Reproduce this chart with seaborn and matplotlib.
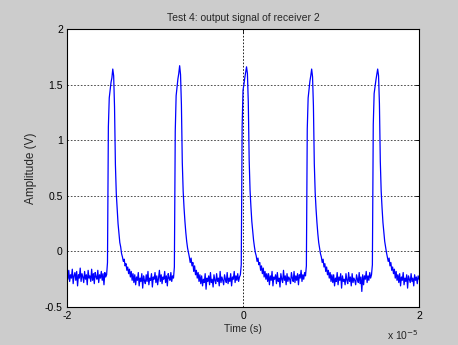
import numpy as np
import pandas as pd
import matplotlib
matplotlib.use("Agg")
import matplotlib.pyplot as plt
import seaborn as sns

# sampling of the trace (s)
t_start = -2e-5
t_step = 1e-7

# amplitude samples (V), one list per pulse period
lead = [-0.20, -0.25, -0.17, -0.27, -0.21, -0.24, -0.16, -0.29, -0.22, -0.19,
        -0.26, -0.18, -0.31, -0.21, -0.24, -0.15, -0.27, -0.20, -0.23, -0.28,
        -0.18, -0.25, -0.21, -0.30, -0.17, -0.24, -0.22, -0.27, -0.16, -0.26,
        -0.20, -0.29, -0.19, -0.23, -0.25, -0.17, -0.28, -0.21, -0.24, -0.18,
        -0.26, -0.20, -0.30, -0.19, -0.23, -0.21, -0.10]

cycle1 = [1.12, 1.38, 1.45, 1.52, 1.56, 1.64, 1.58, 1.30, 0.78, 0.52,
          0.38, 0.25, 0.17, 0.08, 0.04, -0.02, -0.05,
          -0.09, -0.07, -0.13, -0.11, -0.17, -0.14, -0.20, -0.16, -0.23, -0.18, -0.26, -0.20,
          -0.28, -0.21, -0.30, -0.23, -0.26, -0.19, -0.31, -0.24, -0.27, -0.20,
          -0.33, -0.22, -0.26, -0.29, -0.21, -0.27, -0.18, -0.30, -0.24, -0.26,
          -0.20, -0.32, -0.23, -0.25, -0.19, -0.28, -0.22, -0.30, -0.24, -0.17,
          -0.27, -0.21, -0.29, -0.23, -0.25, -0.18, -0.28, -0.22, -0.31, -0.20,
          -0.24, -0.26, -0.19, -0.27, -0.22, -0.24, -0.14]

cycle2 = [1.08, 1.40, 1.48, 1.55, 1.60, 1.67, 1.59, 1.32, 0.80, 0.54,
          0.39, 0.27, 0.17, 0.09, 0.03, -0.01, -0.05,
          -0.10, -0.06, -0.13, -0.10, -0.18, -0.13, -0.21, -0.17, -0.24, -0.19, -0.27, -0.21,
          -0.29, -0.22, -0.31, -0.25, -0.28, -0.20, -0.34, -0.24, -0.27, -0.22,
          -0.30, -0.19, -0.28, -0.25, -0.32, -0.21, -0.26, -0.29, -0.20, -0.27,
          -0.24, -0.31, -0.18, -0.28, -0.23, -0.26, -0.30, -0.21, -0.25, -0.28,
          -0.19, -0.29, -0.24, -0.27, -0.20, -0.31, -0.23, -0.25, -0.18, -0.28,
          -0.22, -0.26, -0.20, -0.27, -0.23, -0.21, -0.12]

cycle3 = [1.12, 1.45, 1.50, 1.56, 1.61, 1.66, 1.60, 1.34, 0.82, 0.55,
          0.40, 0.27, 0.18, 0.10, 0.04, -0.01, -0.04,
          -0.09, -0.06, -0.12, -0.10, -0.17, -0.13, -0.20, -0.15, -0.23, -0.18, -0.25, -0.20,
          -0.27, -0.20, -0.30, -0.22, -0.26, -0.18, -0.31, -0.23, -0.25, -0.21,
          -0.29, -0.19, -0.27, -0.24, -0.32, -0.20, -0.25, -0.28, -0.17, -0.26,
          -0.22, -0.30, -0.20, -0.27, -0.23, -0.25, -0.29, -0.19, -0.24, -0.27,
          -0.18, -0.28, -0.22, -0.26, -0.20, -0.30, -0.21, -0.24, -0.17, -0.27,
          -0.21, -0.25, -0.19, -0.22, -0.13]

cycle4 = [1.10, 1.38, 1.46, 1.53, 1.58, 1.64, 1.57, 1.31, 0.79, 0.53,
          0.38, 0.26, 0.16, 0.08, 0.03, -0.02, -0.05,
          -0.10, -0.07, -0.14, -0.11, -0.18, -0.14, -0.21, -0.17, -0.24, -0.19, -0.27, -0.21,
          -0.28, -0.21, -0.31, -0.24, -0.27, -0.19, -0.30, -0.23, -0.26, -0.20,
          -0.33, -0.22, -0.27, -0.25, -0.30, -0.20, -0.26, -0.29, -0.19, -0.27,
          -0.23, -0.31, -0.20, -0.28, -0.24, -0.26, -0.30, -0.21, -0.25, -0.28,
          -0.19, -0.29, -0.23, -0.36, -0.21, -0.30, -0.22, -0.25, -0.18, -0.28,
          -0.22, -0.26, -0.19, -0.24, -0.21, -0.12]

cycle5 = [1.14, 1.42, 1.48, 1.54, 1.59, 1.64, 1.58, 1.33, 0.81, 0.54,
          0.39, 0.26, 0.17, 0.09, 0.04, -0.01, -0.05,
          -0.09, -0.06, -0.13, -0.10, -0.17, -0.14, -0.20, -0.16, -0.24, -0.18, -0.26, -0.21,
          -0.28, -0.20, -0.31, -0.23, -0.26, -0.19, -0.30, -0.24, -0.27, -0.21,
          -0.33, -0.22, -0.25, -0.28, -0.20, -0.27, -0.24, -0.31, -0.21, -0.26,
          -0.23, -0.29, -0.22, -0.25]

x_ticks = [-2e-5, 0, 2e-5]
x_tick_labels = ['-2', '0', '2']
y_ticks = [-0.5, 0, 0.5, 1, 1.5, 2]
y_tick_labels = ['-0.5', '0', '0.5', '1', '1.5', '2']

amplitude = lead + cycle1 + cycle2 + cycle3 + cycle4 + cycle5
df = pd.DataFrame({'amp': amplitude})
df['time'] = t_start + np.arange(len(df)) * t_step

sns.set_style("white")
plt.rcParams['font.family'] = ['Liberation Sans', 'DejaVu Sans']
plt.rcParams['font.size'] = 7.5

fig = plt.figure(figsize=(4.58, 3.45), dpi=100, facecolor='#cccccc')
ax = fig.add_axes([0.1463, 0.1101, 0.7686, 0.8058])
ax.set_facecolor('white')

sns.lineplot(data=df, x='time', y='amp', ax=ax, color='#0000ff',
             linewidth=0.9, estimator=None, sort=False)

ax.set_xlim(-2e-5, 2e-5)
ax.set_ylim(-0.5, 2)
ax.set_xticks(x_ticks)
ax.set_xticklabels(x_tick_labels)
ax.set_yticks(y_ticks)
ax.set_yticklabels(y_tick_labels)

for yv in y_ticks[1:-1]:
    ax.axhline(yv, color='#333333', lw=0.6, ls=(0, (2, 2)), zorder=0)
ax.axvline(0, color='black', lw=0.6, ls=(0, (2, 2)), zorder=0)

ax.tick_params(direction='in', length=3, width=0.6, top=True, right=True,
               labelsize=7.5, colors='black', pad=3)
for s in ax.spines.values():
    s.set_color('black')
    s.set_linewidth(0.8)

ax.set_title('Test 4: output signal of receiver 2', fontsize=7.5, pad=6)
ax.set_xlabel('Time (s)', fontsize=7.5, labelpad=2)
ax.set_ylabel('Amplitude (V)', fontsize=8.5, labelpad=6)
fig.text(0.915, 0.028, r'x 10$^{-5}$', ha='right', va='center', fontsize=7.5)

fig.savefig('out.png', dpi=100, facecolor=fig.get_facecolor())
